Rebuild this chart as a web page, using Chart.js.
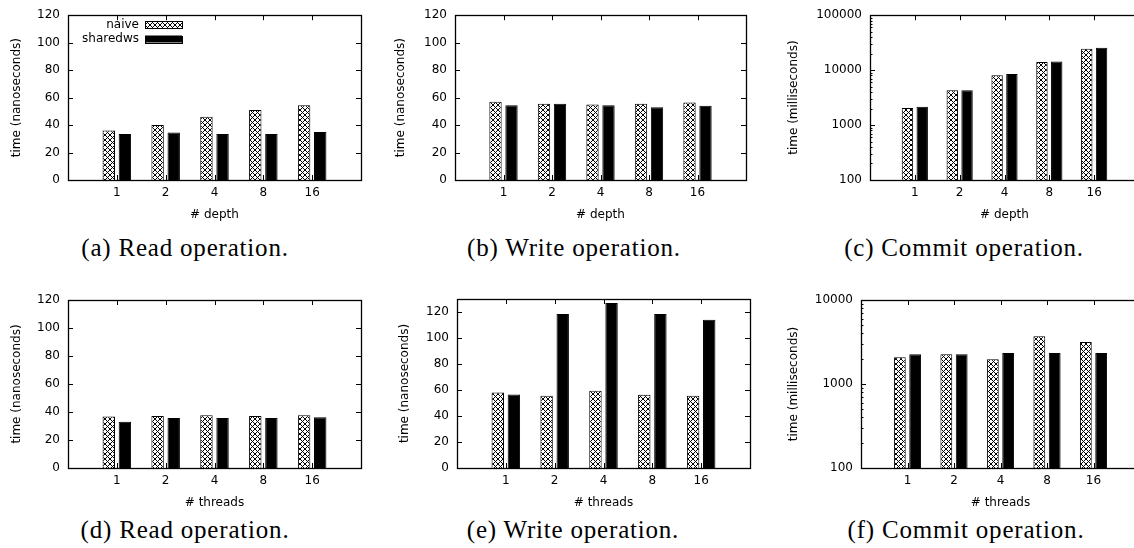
<!DOCTYPE html>
<html>
<head>
<meta charset="utf-8">
<script src="https://cdn.jsdelivr.net/npm/chart.js@4.4.1/dist/chart.umd.min.js"></script>
<style>
  body { margin: 0; width: 1134px; height: 548px; overflow: hidden; background: #fff; position: relative; }
  .panel { position: absolute; }
  .caption { position: absolute; font-family: 'Liberation Serif', serif; font-size: 25px; letter-spacing: 0.8px; color: #000; white-space: nowrap; transform: translate(-50%, -50%); }
</style>
</head>
<body>
<div class="panel" style="left:0px;top:0px"><canvas id="chartA" width="378" height="224"></canvas></div>
<div class="panel" style="left:378px;top:0px"><canvas id="chartB" width="378" height="224"></canvas></div>
<div class="panel" style="left:756px;top:0px"><canvas id="chartC" width="394" height="224"></canvas></div>
<div class="panel" style="left:0px;top:274px"><canvas id="chartD" width="378" height="238"></canvas></div>
<div class="panel" style="left:378px;top:274px"><canvas id="chartE" width="378" height="238"></canvas></div>
<div class="panel" style="left:756px;top:274px"><canvas id="chartF" width="394" height="238"></canvas></div>

<div class="caption" style="left:185px;top:248px">(a) Read operation.</div>
<div class="caption" style="left:574px;top:248px">(b) Write operation.</div>
<div class="caption" style="left:964px;top:248px">(c) Commit operation.</div>
<div class="caption" style="left:185px;top:530px">(d) Read operation.</div>
<div class="caption" style="left:573px;top:530px">(e) Write operation.</div>
<div class="caption" style="left:966px;top:530px">(f) Commit operation.</div>

<script>
// data
const depthLabels = ['1', '2', '4', '8', '16'];
const threadLabels = ['1', '2', '4', '8', '16'];
const seriesNames = ['naive', 'sharedws'];

const readDepthNaive = [36, 40, 46, 51, 54.5];
const readDepthShared = [33.5, 34.5, 33.5, 33.5, 35];
const writeDepthNaive = [57, 55.5, 55, 55.5, 56.5];
const writeDepthShared = [54.5, 55.5, 54.5, 53, 54];
const commitDepthNaive = [2050, 4300, 8100, 14000, 24500];
const commitDepthShared = [2150, 4300, 8500, 14300, 25500];

const readThreadsNaive = [36.7, 37.2, 37.7, 37.2, 37.7];
const readThreadsShared = [33, 35.7, 35.7, 35.7, 36.2];
const writeThreadsNaive = [58, 55.5, 59.5, 56.3, 55.5];
const writeThreadsShared = [56.5, 118.5, 127, 118.5, 114];
const commitThreadsNaive = [2080, 2260, 1970, 3700, 3170];
const commitThreadsShared = [2260, 2260, 2340, 2340, 2340];

Chart.defaults.font.family = 'DejaVu Sans';
Chart.defaults.font.size = 12;
Chart.defaults.color = '#000';

function hatch() {
    const c = document.createElement('canvas');
    c.width = 5; c.height = 5;
    const g = c.getContext('2d');
    g.fillStyle = '#fff';
    g.fillRect(0, 0, 5, 5);
    g.strokeStyle = '#000';
    g.lineWidth = 1;
    g.beginPath();
    g.moveTo(0, 0); g.lineTo(5, 5);
    g.moveTo(5, 0); g.lineTo(0, 5);
    g.stroke();
    return g.createPattern(c, 'repeat');
}
const hatchFill = hatch();

// gnuplot style box with inward ticks on all four sides
const gpFrame = {
    id: 'gpFrame',
    beforeDatasetsDraw(chart) {
        const {ctx, chartArea: a, scales} = chart;
        const x = scales.x, y = scales.y;
        ctx.save();
        ctx.strokeStyle = '#000';
        ctx.lineWidth = 1;
        ctx.beginPath();
        x.ticks.forEach((t, i) => {
            if (!chart.data.labels[i]) return;
            const px = Math.round(x.getPixelForTick(i)) + 0.5;
            ctx.moveTo(px, a.top); ctx.lineTo(px, a.top + 5);
            ctx.moveTo(px, a.bottom); ctx.lineTo(px, a.bottom - 5);
        });
        y.ticks.forEach(t => {
            const py = Math.round(y.getPixelForValue(t.value)) + 0.5;
            ctx.moveTo(a.left, py); ctx.lineTo(a.left + 5, py);
            ctx.moveTo(a.right, py); ctx.lineTo(a.right - 5, py);
        });
        if (y.type === 'logarithmic') {
            for (let d = 100; d < y.max; d *= 10) {
                for (let m = 2; m < 10; m++) {
                    const py = Math.round(y.getPixelForValue(m * d)) + 0.5;
                    ctx.moveTo(a.left, py); ctx.lineTo(a.left + 2.5, py);
                    ctx.moveTo(a.right, py); ctx.lineTo(a.right - 2.5, py);
                }
            }
        }
        ctx.stroke();
        ctx.restore();
    },
    afterDatasetsDraw(chart) {
        const {ctx, chartArea: a} = chart;
        ctx.save();
        ctx.strokeStyle = '#000';
        ctx.lineWidth = 1.3;
        ctx.strokeRect(Math.round(a.left) + 0.5, Math.round(a.top) + 0.5,
            Math.round(a.right - a.left), Math.round(a.bottom - a.top));
        ctx.restore();
    }
};

// key drawn the gnuplot way: text right aligned, sample box after it
const gpKey = {
    id: 'gpKey',
    afterDatasetsDraw(chart, args, opts) {
        if (!opts.show) return;
        const ctx = chart.ctx;
        ctx.save();
        ctx.font = '12px "DejaVu Sans"';
        ctx.textAlign = 'right';
        ctx.textBaseline = 'middle';
        chart.data.datasets.forEach((ds, i) => {
            const yy = opts.rows[i];
            ctx.fillStyle = '#000';
            ctx.fillText(ds.label, opts.textRight, yy);
            ctx.fillStyle = ds.backgroundColor;
            ctx.fillRect(opts.boxLeft, yy - 3.5, opts.boxWidth, 7);
            ctx.strokeStyle = '#000';
            ctx.lineWidth = 1;
            ctx.strokeRect(opts.boxLeft + 0.5, Math.round(yy - 3.5) + 0.5, opts.boxWidth, 7);
        });
        ctx.restore();
    }
};

function padded(arr) { return [null, ...arr, null]; }

function makeChart(id, p, labels, naive, shared, xTitle, yTitle, yScale, showKey) {
    const yAxis = Object.assign({
        grid: { display: false, drawTicks: false },
        border: { display: false },
        title: { display: true, text: yTitle, padding: { top: p.titleX - p.x0 - 7.2, bottom: 0 } },
        afterFit(s) { s.width = p.left - p.x0; }
    }, yScale);
    new Chart(document.getElementById(id), {
        type: 'bar',
        data: {
            labels: ['', ...labels, ''],
            datasets: [{
                label: seriesNames[0],
                data: padded(naive),
                backgroundColor: hatchFill,
                borderColor: '#000',
                borderWidth: 1
            }, {
                label: seriesNames[1],
                data: padded(shared),
                backgroundColor: '#000',
                borderColor: '#000',
                borderWidth: 1
            }]
        },
        options: {
            responsive: false,
            animation: false,
            layout: { padding: { top: p.top - p.y0, right: p.x0 + p.w - p.right, left: 0, bottom: 0 } },
            datasets: { bar: { categoryPercentage: 0.66, barPercentage: 0.77 } },
            scales: {
                x: {
                    offset: false,
                    grid: { display: false, drawTicks: false },
                    border: { display: false },
                    ticks: { autoSkip: false, maxRotation: 0, padding: 6 },
                    title: { display: true, text: xTitle, padding: { top: 0, bottom: 2 } },
                    afterFit(s) { s.height = p.y0 + p.h - p.bottom; }
                },
                y: yAxis
            },
            plugins: {
                legend: { display: false },
                tooltip: { enabled: false },
                gpKey: { show: showKey, textRight: 139, rows: [24.5, 39], boxLeft: 145, boxWidth: 37 }
            }
        },
        plugins: [gpFrame, gpKey]
    });
}

function linearY(max) {
    return {
        type: 'linear', min: 0, max: max,
        ticks: { stepSize: 20, padding: 8, includeBounds: false, callback: v => String(v) },
        afterBuildTicks(s) { s.ticks = s.ticks.filter(t => t.value % 20 === 0); }
    };
}
function logY(max) {
    return {
        type: 'logarithmic', min: 100, max: max,
        ticks: { padding: 8, callback: v => String(v) },
        afterBuildTicks(s) {
            s.ticks = s.ticks.filter(t => Math.abs(Math.log10(t.value) - Math.round(Math.log10(t.value))) < 1e-9);
        }
    };
}

const panels = {
    a: { x0: 0,   y0: 0,   w: 378, h: 224, left: 68,  right: 361,  top: 12,  bottom: 180, titleX: 17 },
    b: { x0: 378, y0: 0,   w: 378, h: 224, left: 455, right: 746,  top: 13,  bottom: 180, titleX: 401 },
    c: { x0: 756, y0: 0,   w: 394, h: 224, left: 870, right: 1139, top: 14,  bottom: 180, titleX: 794 },
    d: { x0: 0,   y0: 274, w: 378, h: 238, left: 68,  right: 361,  top: 300, bottom: 468, titleX: 17 },
    e: { x0: 378, y0: 274, w: 378, h: 238, left: 457, right: 750,  top: 299, bottom: 468, titleX: 405 },
    f: { x0: 756, y0: 274, w: 394, h: 238, left: 861, right: 1140, top: 300, bottom: 468, titleX: 794 }
};

makeChart('chartA', panels.a, depthLabels, readDepthNaive, readDepthShared, '# depth', 'time (nanoseconds)', linearY(120), true);
makeChart('chartB', panels.b, depthLabels, writeDepthNaive, writeDepthShared, '# depth', 'time (nanoseconds)', linearY(120), false);
makeChart('chartC', panels.c, depthLabels, commitDepthNaive, commitDepthShared, '# depth', 'time (milliseconds)', logY(100000), false);
makeChart('chartD', panels.d, threadLabels, readThreadsNaive, readThreadsShared, '# threads', 'time (nanoseconds)', linearY(120), false);
makeChart('chartE', panels.e, threadLabels, writeThreadsNaive, writeThreadsShared, '# threads', 'time (nanoseconds)', linearY(130), false);
makeChart('chartF', panels.f, threadLabels, commitThreadsNaive, commitThreadsShared, '# threads', 'time (milliseconds)', logY(10000), false);
</script>
</body>
</html>
